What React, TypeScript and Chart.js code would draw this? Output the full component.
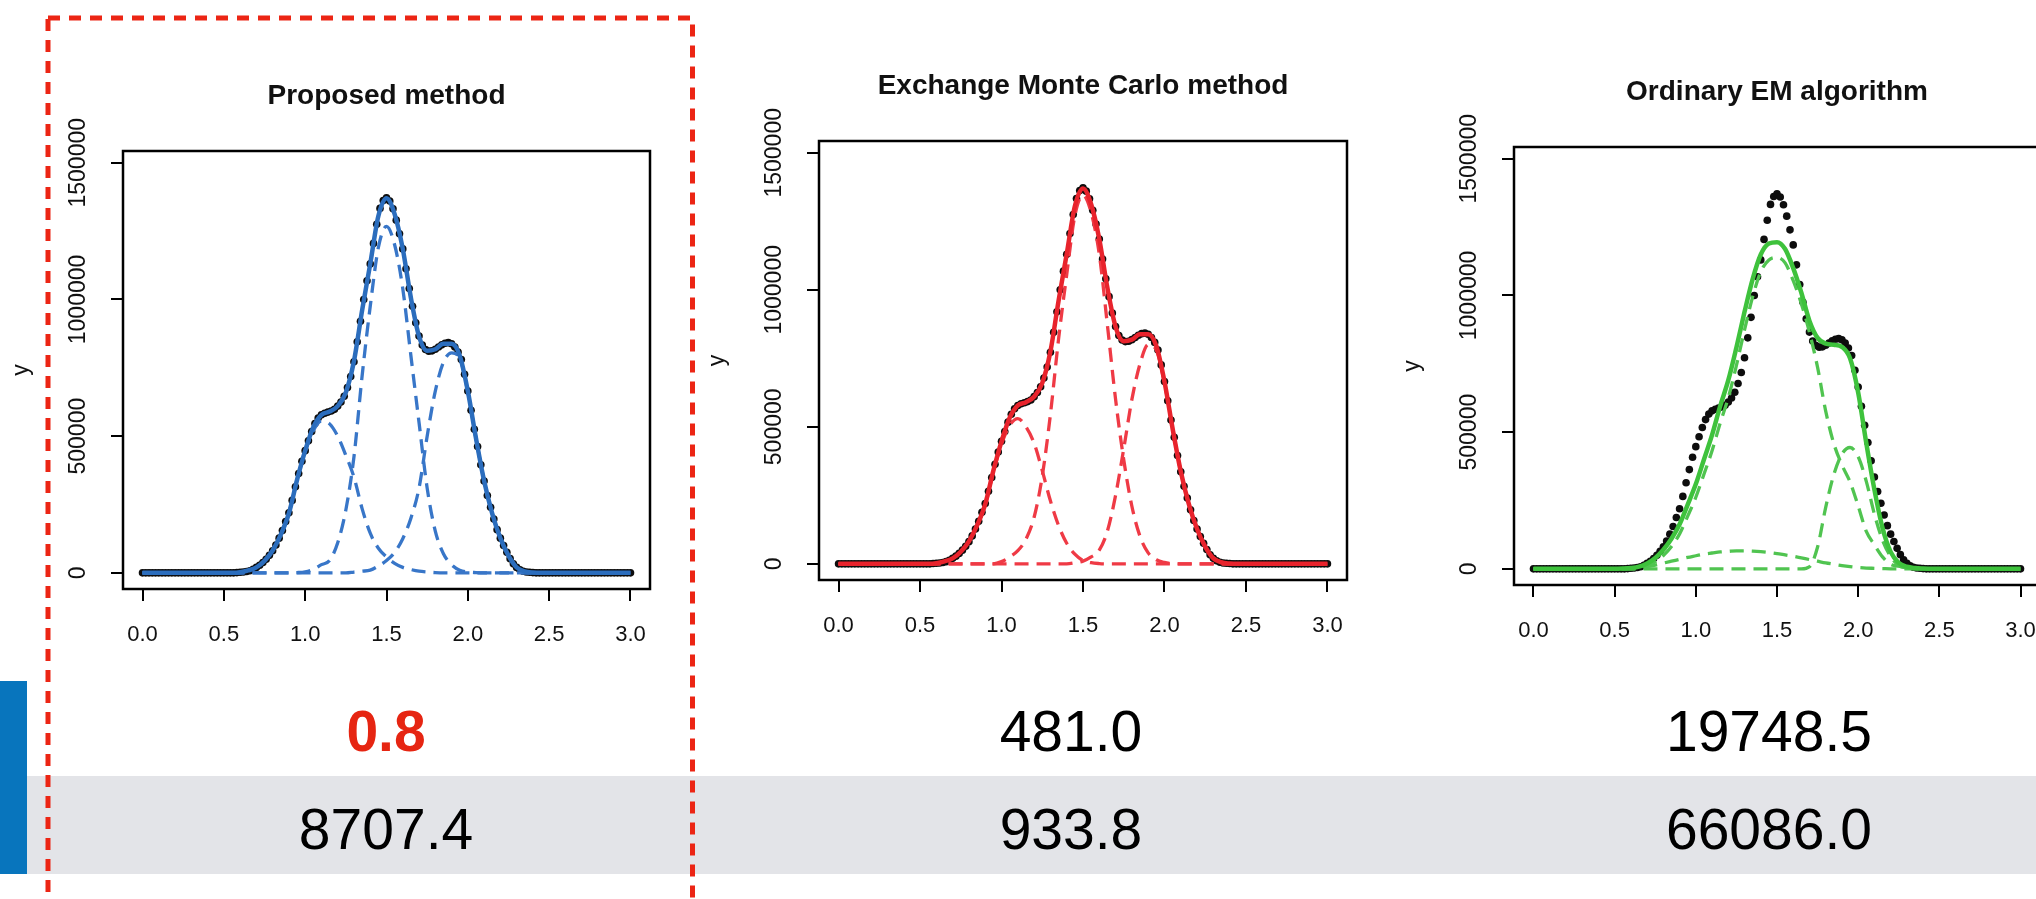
import React, { useEffect, useRef } from "react";
import { Chart, registerables } from "chart.js";

Chart.register(...registerables);

const FONT = "'Liberation Sans', Arial, Helvetica, sans-serif";

// ---------- axis ticks / labels ----------
const xTicks = [0, 0.5, 1, 1.5, 2, 2.5, 3];
const yTicks = [0, 500000, 1000000, 1500000];
const panelTitles = ["Proposed method", "Exchange Monte Carlo method", "Ordinary EM algorithm"];
const rowOneValues = ["0.8", "481.0", "19748.5"];
const rowTwoValues = ["8707.4", "933.8", "66086.0"];

// ---------- observed data (black dots), y in thousands ----------
const dotX = [
  0, 0.02, 0.04, 0.06, 0.08, 0.1, 0.12, 0.14, 0.16, 0.18,
  0.2, 0.22, 0.24, 0.26, 0.28, 0.3, 0.32, 0.34, 0.36, 0.38,
  0.4, 0.42, 0.44, 0.46, 0.48, 0.5, 0.52, 0.54, 0.56, 0.58,
  0.6, 0.62, 0.64, 0.66, 0.68, 0.7, 0.72, 0.74, 0.76, 0.78,
  0.8, 0.82, 0.84, 0.86, 0.88, 0.9, 0.92, 0.94, 0.96, 0.98,
  1, 1.02, 1.04, 1.06, 1.08, 1.1, 1.12, 1.14, 1.16, 1.18,
  1.2, 1.22, 1.24, 1.26, 1.28, 1.3, 1.32, 1.34, 1.36, 1.38,
  1.4, 1.42, 1.44, 1.46, 1.48, 1.5, 1.52, 1.54, 1.56, 1.58,
  1.6, 1.62, 1.64, 1.66, 1.68, 1.7, 1.72, 1.74, 1.76, 1.78,
  1.8, 1.82, 1.84, 1.86, 1.88, 1.9, 1.92, 1.94, 1.96, 1.98,
  2, 2.02, 2.04, 2.06, 2.08, 2.1, 2.12, 2.14, 2.16, 2.18,
  2.2, 2.22, 2.24, 2.26, 2.28, 2.3, 2.32, 2.34, 2.36, 2.38,
  2.4, 2.42, 2.44, 2.46, 2.48, 2.5, 2.52, 2.54, 2.56, 2.58,
  2.6, 2.62, 2.64, 2.66, 2.68, 2.7, 2.72, 2.74, 2.76, 2.78,
  2.8, 2.82, 2.84, 2.86, 2.88, 2.9, 2.92, 2.94, 2.96, 2.98,
  3,
];
const dotY = [
  0, 0, 0, 0, 0, 0, 0, 0, 0, 0,
  0, 0, 0, 0, 0, 0, 0, 0, 0, 0,
  0, 0, 0, 0, 0, 0, 0, 0, 0, 1,
  2, 3, 5, 8, 13, 20, 28, 38, 50, 64,
  81, 102, 127, 155, 188, 220, 265, 315, 363, 408,
  447, 483, 517, 546, 566, 578, 584, 588, 592, 598,
  610, 625, 646, 678, 718, 772, 845, 920, 1000, 1068,
  1130, 1205, 1275, 1333, 1362, 1372, 1360, 1332, 1290, 1240,
  1185, 1112, 1040, 975, 915, 866, 833, 817, 811, 812,
  818, 826, 834, 840, 842, 838, 826, 808, 780, 726,
  665, 595, 525, 462, 395, 336, 283, 240, 197, 158,
  127, 100, 75, 52, 33, 20, 11, 6, 3, 2,
  1, 0, 0, 0, 0, 0, 0, 0, 0, 0,
  0, 0, 0, 0, 0, 0, 0, 0, 0, 0,
  0, 0, 0, 0, 0, 0, 0, 0, 0, 0,
  0,
];

// ---------- fitted curves and components on a 0.05 grid, y in thousands ----------
const gridX = [
  0, 0.05, 0.1, 0.15, 0.2, 0.25, 0.3, 0.35, 0.4, 0.45,
  0.5, 0.55, 0.6, 0.65, 0.7, 0.75, 0.8, 0.85, 0.9, 0.95,
  1, 1.05, 1.1, 1.15, 1.2, 1.25, 1.3, 1.35, 1.4, 1.45,
  1.5, 1.55, 1.6, 1.65, 1.7, 1.75, 1.8, 1.85, 1.9, 1.95,
  2, 2.05, 2.1, 2.15, 2.2, 2.25, 2.3, 2.35, 2.4, 2.45,
  2.5, 2.55, 2.6, 2.65, 2.7, 2.75, 2.8, 2.85, 2.9, 2.95,
  3,
];

// Proposed method
const fitProposed = [
  0, 0, 0, 0, 0, 0, 0, 0, 0, 0,
  0, 0, 2, 9, 20, 44, 82, 140, 218, 340,
  447, 533, 578, 590, 610, 660, 775, 960, 1130, 1305,
  1370, 1312, 1185, 1006, 865, 812, 818, 838, 838, 795,
  665, 493, 337, 217, 127, 63, 20, 5, 1, 0,
  0, 0, 0, 0, 0, 0, 0, 0, 0, 0,
  0,
];
const compProposedA = [
  0, 0, 0, 0, 0, 0, 0, 0, 0, 0,
  0, 0, 2, 8, 20, 44, 82, 140, 218, 340,
  443, 520, 555, 545, 500, 430, 350, 235, 145, 90,
  58, 35, 20, 12, 6, 3, 1, 0, 0, 0,
  0, 0, 0, 0, 0, 0, 0, 0, 0, 0,
  0, 0, 0, 0, 0, 0, 0, 0, 0, 0,
  0,
];
const compProposedB = [
  0, 0, 0, 0, 0, 0, 0, 0, 0, 0,
  0, 0, 0, 0, 0, 0, 0, 0, 0, 1,
  4, 13, 30, 45, 110, 230, 425, 720, 975, 1190,
  1267, 1200, 1040, 794, 550, 310, 153, 70, 30, 10,
  3, 1, 0, 0, 0, 0, 0, 0, 0, 0,
  0, 0, 0, 0, 0, 0, 0, 0, 0, 0,
  0,
];
const compProposedC = [
  0, 0, 0, 0, 0, 0, 0, 0, 0, 0,
  0, 0, 0, 0, 0, 0, 0, 0, 0, 0,
  0, 0, 0, 0, 0, 0, 3, 6, 10, 25,
  45, 75, 125, 200, 310, 500, 665, 770, 805, 785,
  662, 492, 337, 217, 127, 63, 20, 5, 1, 0,
  0, 0, 0, 0, 0, 0, 0, 0, 0, 0,
  0,
];

// Exchange Monte Carlo method
const fitExchange = [
  0, 0, 0, 0, 0, 0, 0, 0, 0, 0,
  0, 0, 2, 9, 20, 44, 82, 140, 218, 340,
  447, 533, 578, 590, 610, 660, 775, 960, 1130, 1305,
  1370, 1312, 1185, 1006, 865, 812, 818, 838, 838, 795,
  665, 493, 337, 217, 127, 63, 20, 5, 1, 0,
  0, 0, 0, 0, 0, 0, 0, 0, 0, 0,
  0,
];
const compExchangeA = [
  0, 0, 0, 0, 0, 0, 0, 0, 0, 0,
  0, 0, 2, 8, 20, 43, 82, 140, 215, 335,
  437, 505, 530, 500, 440, 340, 230, 140, 75, 35,
  12, 4, 1, 0, 0, 0, 0, 0, 0, 0,
  0, 0, 0, 0, 0, 0, 0, 0, 0, 0,
  0, 0, 0, 0, 0, 0, 0, 0, 0, 0,
  0,
];
const compExchangeB = [
  0, 0, 0, 0, 0, 0, 0, 0, 0, 0,
  0, 0, 0, 0, 0, 0, 0, 0, 0, 0,
  8, 25, 48, 90, 170, 320, 545, 820, 1055, 1270,
  1345, 1282, 1130, 870, 600, 380, 210, 100, 40, 15,
  5, 1, 0, 0, 0, 0, 0, 0, 0, 0,
  0, 0, 0, 0, 0, 0, 0, 0, 0, 0,
  0,
];
const compExchangeC = [
  0, 0, 0, 0, 0, 0, 0, 0, 0, 0,
  0, 0, 0, 0, 0, 0, 0, 0, 0, 0,
  0, 0, 0, 0, 0, 0, 0, 0, 0, 4,
  10, 25, 50, 120, 250, 420, 600, 730, 800, 780,
  660, 492, 337, 217, 127, 63, 22, 6, 2, 0,
  0, 0, 0, 0, 0, 0, 0, 0, 0, 0,
  0,
];

// Ordinary EM algorithm
const fitOrdinaryEM = [
  0, 0, 0, 0, 0, 0, 0, 0, 0, 0,
  0, 1, 3, 8, 20, 40, 70, 110, 163, 235,
  310, 400, 490, 595, 690, 810, 940, 1060, 1150, 1190,
  1195, 1170, 1100, 1010, 907, 845, 824, 820, 812, 770,
  645, 460, 290, 150, 62, 22, 8, 3, 1, 0,
  0, 0, 0, 0, 0, 0, 0, 0, 0, 0,
  0,
];
const compOrdinaryA = [
  0, 0, 0, 0, 0, 0, 0, 0, 0, 0,
  0, 1, 3, 5, 12, 26, 49, 82, 128, 193,
  262, 346, 432, 533, 626, 744, 874, 995, 1087, 1130,
  1139, 1119, 1054, 970, 865, 737, 577, 458, 380, 318,
  230, 137, 88, 44, 17, 10, 5, 2, 1, 0,
  0, 0, 0, 0, 0, 0, 0, 0, 0, 0,
  0,
];
const compOrdinaryB = [
  0, 0, 0, 0, 0, 0, 0, 0, 0, 0,
  0, 0, 0, 0, 0, 0, 0, 0, 0, 0,
  0, 0, 0, 0, 0, 0, 0, 0, 0, 0,
  0, 0, 0, 0, 8, 80, 225, 345, 420, 444,
  410, 320, 200, 105, 45, 12, 3, 1, 0, 0,
  0, 0, 0, 0, 0, 0, 0, 0, 0, 0,
  0,
];
const compOrdinaryC = [
  0, 0, 0, 0, 0, 0, 0, 0, 0, 0,
  0, 0, 0, 3, 8, 14, 21, 28, 35, 42,
  48, 54, 58, 62, 64, 66, 66, 65, 63, 60,
  56, 51, 46, 40, 34, 28, 22, 17, 12, 8,
  5, 3, 2, 1, 0, 0, 0, 0, 0, 0,
  0, 0, 0, 0, 0, 0, 0, 0, 0, 0,
  0,
];

type PanelSpec = {
  title: string;
  fit: number[];
  comps: number[][];
  solid: string;
  dash: string;
  left: number;
  top: number;
  width: number;
  height: number;
};

const panels: PanelSpec[] = [
  { title: panelTitles[0], fit: fitProposed, comps: [compProposedA, compProposedB, compProposedC], solid: "#2b6dbd", dash: "#3876c8", left: 3, top: 60, width: 667, height: 619 },
  { title: panelTitles[1], fit: fitExchange, comps: [compExchangeA, compExchangeB, compExchangeC], solid: "#e8232c", dash: "#ef3a45", left: 699, top: 50, width: 668, height: 620 },
  { title: panelTitles[2], fit: fitOrdinaryEM, comps: [compOrdinaryA, compOrdinaryB, compOrdinaryC], solid: "#3ec23c", dash: "#50c450", left: 1394, top: 56, width: 666, height: 619 },
];

const toPoints = (xs: number[], ys: number[]) => xs.map((x, i) => ({ x, y: ys[i] * 1000 }));

const boxPlugin = {
  id: "rbox",
  afterDatasetsDraw(chart: any) {
    const { ctx, chartArea: a } = chart;
    ctx.save();
    ctx.strokeStyle = "#000";
    ctx.lineWidth = 2.5;
    ctx.strokeRect(a.left, a.top, a.right - a.left, a.bottom - a.top);
    ctx.restore();
  },
};

function Panel({ spec }: { spec: PanelSpec }) {
  const ref = useRef<HTMLCanvasElement | null>(null);
  useEffect(() => {
    if (!ref.current) return;
    const datasets: any[] = [
      {
        data: toPoints(gridX, spec.fit),
        borderColor: spec.solid,
        borderWidth: 4.5,
        pointRadius: 0,
        fill: false,
        cubicInterpolationMode: "monotone",
      },
      ...spec.comps.map((c) => ({
        data: toPoints(gridX, c),
        borderColor: spec.dash,
        borderWidth: 3.3,
        borderDash: [14, 8],
        pointRadius: 0,
        fill: false,
        cubicInterpolationMode: "monotone",
      })),
      {
        data: toPoints(dotX, dotY),
        showLine: false,
        pointRadius: 3.8,
        pointBackgroundColor: "#0d0d0d",
        pointBorderWidth: 0,
        borderColor: "#0d0d0d",
      },
    ];
    const gridOpts = {
      display: true,
      drawOnChartArea: false,
      drawTicks: true,
      tickLength: 12,
      color: "#000",
      lineWidth: 2,
    };
    const chart = new Chart(ref.current, {
      type: "line",
      data: { datasets },
      plugins: [boxPlugin],
      options: {
        animation: false,
        responsive: false,
        events: [],
        layout: { padding: { left: 0, right: 20, top: 0, bottom: 0 } },
        plugins: {
          legend: { display: false },
          tooltip: { enabled: false },
          title: {
            display: true,
            text: spec.title,
            fullSize: false,
            color: "#111",
            font: { family: FONT, size: 28, weight: "bold" },
            padding: { top: 19, bottom: 38.4 },
          },
        },
        scales: {
          x: {
            type: "linear",
            min: -0.12,
            max: 3.12,
            afterBuildTicks: (s: any) => {
              s.ticks = xTicks.map((v) => ({ value: v }));
            },
            afterFit: (s: any) => {
              s.height = 90;
            },
            ticks: {
              callback: (v: any) => Number(v).toFixed(1),
              font: { family: FONT, size: 22 },
              color: "#111",
              padding: 21,
              minRotation: 0,
              maxRotation: 0,
              autoSkip: false,
            },
            grid: gridOpts,
            border: { display: false },
          },
          y: {
            type: "linear",
            min: -59000,
            max: 1543000,
            afterBuildTicks: (s: any) => {
              s.ticks = yTicks.map((v) => ({ value: v }));
            },
            afterFit: (s: any) => {
              s.width = 120;
            },
            ticks: {
              callback: (v: any) => String(v),
              font: { family: FONT, size: 23 },
              color: "#111",
              minRotation: 90,
              maxRotation: 90,
              crossAlign: "center",
              padding: -12.75,
              autoSkip: false,
            },
            grid: gridOpts,
            border: { display: false },
            title: {
              display: true,
              text: "y",
              color: "#111",
              font: { family: FONT, size: 23 },
              padding: { top: 4.5, bottom: 0 },
            },
          },
        },
      } as any,
    } as any);
    return () => chart.destroy();
  }, [spec]);
  return (
    <canvas
      ref={ref}
      width={spec.width}
      height={spec.height}
      style={{ position: "absolute", left: spec.left, top: spec.top, width: spec.width, height: spec.height }}
    />
  );
}

const colCenters = [386, 1071, 1769];

export default function App() {
  const textStyle = (cx: number, top: number, extra: any = {}) => ({
    position: "absolute" as const,
    left: cx - 200,
    width: 400,
    top,
    textAlign: "center" as const,
    fontFamily: FONT,
    fontSize: 57,
    lineHeight: "57px",
    color: "#000",
    whiteSpace: "nowrap" as const,
    ...extra,
  });
  return (
    <div style={{ position: "fixed", left: 0, top: 0, width: 2036, height: 899, overflow: "hidden", background: "#fff" }}>
      {panels.map((p, i) => (
        <Panel key={i} spec={p} />
      ))}
      <div style={{ position: "absolute", left: 0, top: 681, width: 27, height: 193, background: "#0875bd" }} />
      <div style={{ position: "absolute", left: 27, top: 776, width: 2009, height: 98, background: "#e3e4e8" }} />
      {rowOneValues.map((t, i) => (
        <div key={"r1" + i} style={textStyle(colCenters[i], 703, i === 0 ? { color: "#e62512", fontWeight: "bold" } : {})}>
          {t}
        </div>
      ))}
      {rowTwoValues.map((t, i) => (
        <div key={"r2" + i} style={textStyle(colCenters[i], 801)}>
          {t}
        </div>
      ))}
      <svg width={2036} height={899} style={{ position: "absolute", left: 0, top: 0, pointerEvents: "none" }}>
        <rect x={48} y={18} width={644.5} height={1000} fill="none" stroke="#ec2514" strokeWidth={5} strokeDasharray="12 9" />
      </svg>
    </div>
  );
}
